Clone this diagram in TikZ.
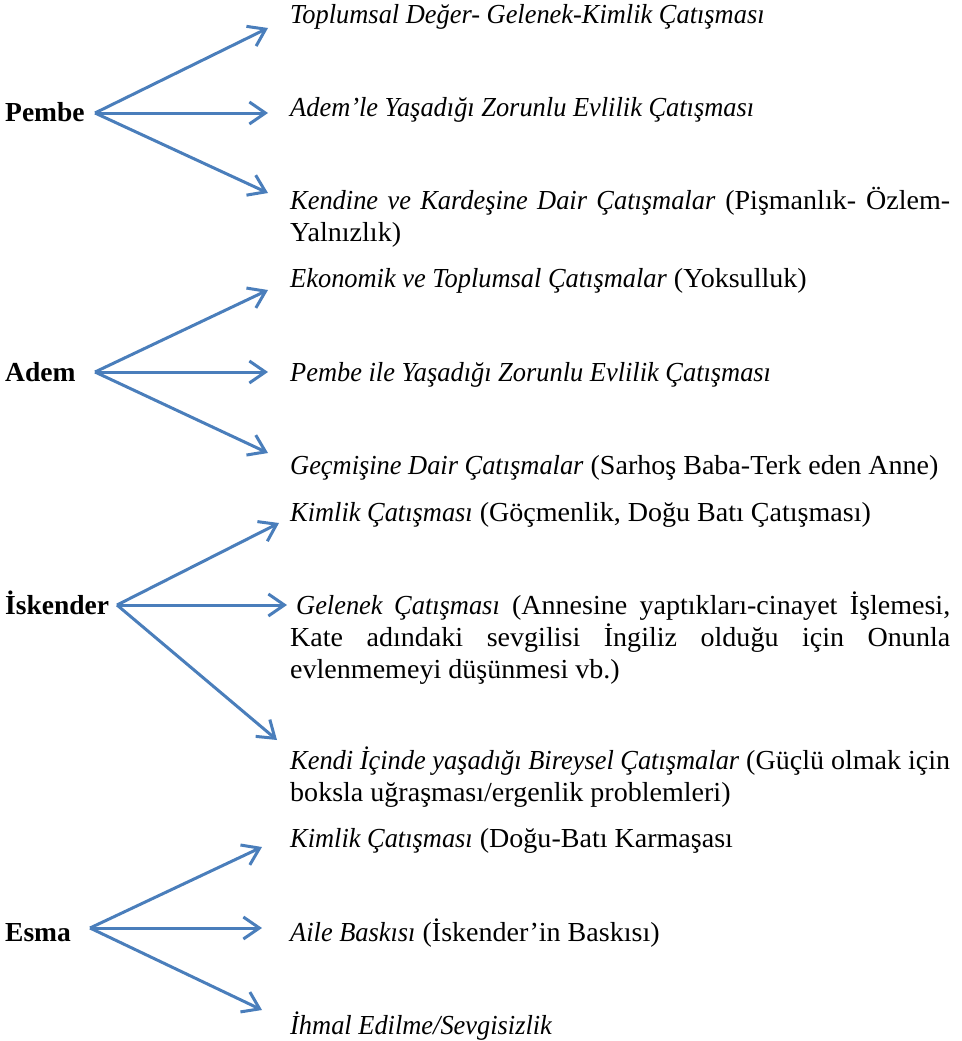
\documentclass[tikz,border=0pt]{standalone}
\usepackage{fontspec}
\setmainfont{Liberation Serif}[UprightFeatures={FakeStretch=1.02},ItalicFeatures={FakeStretch=0.96}]
\usetikzlibrary{arrows.meta}
\definecolor{arrowblue}{RGB}{74,126,187}
\hyphenpenalty=10000
\exhyphenpenalty=10000
\tikzset{
  txt/.style={anchor=base west, inner sep=0pt, font=\fontsize{27.5}{32}\selectfont},
  para/.style={txt, text width=660pt, align=justify},
  person/.style={txt, font=\fontsize{27.5}{32}\selectfont\bfseries},
  conflict/.style={-{Straight Barb[length=16pt,width=22pt]}, line width=3pt, draw=arrowblue}
}

\begin{document}
\begin{tikzpicture}[x=1pt,y=-1pt]
	\useasboundingbox (0,0) rectangle (961,1041);
	%Pembe
		\node[person] (pembe) at (5,121) {Pembe};
		\coordinate (pembeO) at (95,113);
		\coordinate (pembeA) at (268,28);
		\coordinate (pembeB) at (268,113);
		\coordinate (pembeC) at (268,193);
		\draw[conflict] (pembeO) -- (pembeA);
		\draw[conflict] (pembeO) -- (pembeB);
		\draw[conflict] (pembeO) -- (pembeC);
		\node[txt] (pembe1) at (290,24) {\textit{Toplumsal Değer- Gelenek-Kimlik Çatışması}};
		\node[txt] (pembe2) at (290,116) {\textit{Adem’le Yaşadığı Zorunlu Evlilik Çatışması}};
		\node[para] (pembe3) at (290,209) {\textit{Kendine ve Kardeşine Dair Çatışmalar} (Pişmanlık- Özlem-\linebreak Yalnızlık)};
	%Adem
		\node[person] (adem) at (5,381) {Adem};
		\coordinate (ademO) at (95,372);
		\coordinate (ademA) at (268,290);
		\coordinate (ademB) at (268,372);
		\coordinate (ademC) at (268,453);
		\draw[conflict] (ademO) -- (ademA);
		\draw[conflict] (ademO) -- (ademB);
		\draw[conflict] (ademO) -- (ademC);
		\node[txt] (adem1) at (290,287) {\textit{Ekonomik ve Toplumsal Çatışmalar} (Yoksulluk)};
		\node[txt] (adem2) at (290,381) {\textit{Pembe ile Yaşadığı Zorunlu Evlilik Çatışması}};
		\node[txt] (adem3) at (290,474) {\textit{Geçmişine Dair Çatışmalar} (Sarhoş Baba-Terk eden Anne)};
	%Iskender
		\node[person] (iskender) at (5,614) {İskender};
		\coordinate (iskenderO) at (117,605);
		\coordinate (iskenderA) at (279,523);
		\coordinate (iskenderB) at (287,605);
		\coordinate (iskenderC) at (277,740);
		\draw[conflict] (iskenderO) -- (iskenderA);
		\draw[conflict] (iskenderO) -- (iskenderB);
		\draw[conflict] (iskenderO) -- (iskenderC);
		\node[txt] (iskender1) at (290,521) {\textit{Kimlik Çatışması} (Göçmenlik, Doğu Batı Çatışması)};
		\node[para] (iskender2) at (290,614) {\hspace*{6pt}\textit{Gelenek Çatışması} (Annesine yaptıkları-cinayet İşlemesi,\linebreak Kate adındaki sevgilisi İngiliz olduğu için Onunla\linebreak evlenmemeyi düşünmesi vb.)};
		\node[para] (iskender3) at (290,769) {\textit{Kendi İçinde yaşadığı Bireysel Çatışmalar} (Güçlü olmak için\linebreak boksla uğraşması/ergenlik problemleri)};
	%Esma
		\node[person] (esma) at (5,941) {Esma};
		\coordinate (esmaO) at (90,928);
		\coordinate (esmaA) at (262,847);
		\coordinate (esmaB) at (262,928);
		\coordinate (esmaC) at (262,1010);
		\draw[conflict] (esmaO) -- (esmaA);
		\draw[conflict] (esmaO) -- (esmaB);
		\draw[conflict] (esmaO) -- (esmaC);
		\node[txt] (esma1) at (290,847) {\textit{Kimlik Çatışması} (Doğu-Batı Karmaşası};
		\node[txt] (esma2) at (290,941) {\textit{Aile Baskısı} (İskender’in Baskısı)};
		\node[txt] (esma3) at (290,1034) {\textit{İhmal Edilme/Sevgisizlik}};
\end{tikzpicture}
\end{document}
